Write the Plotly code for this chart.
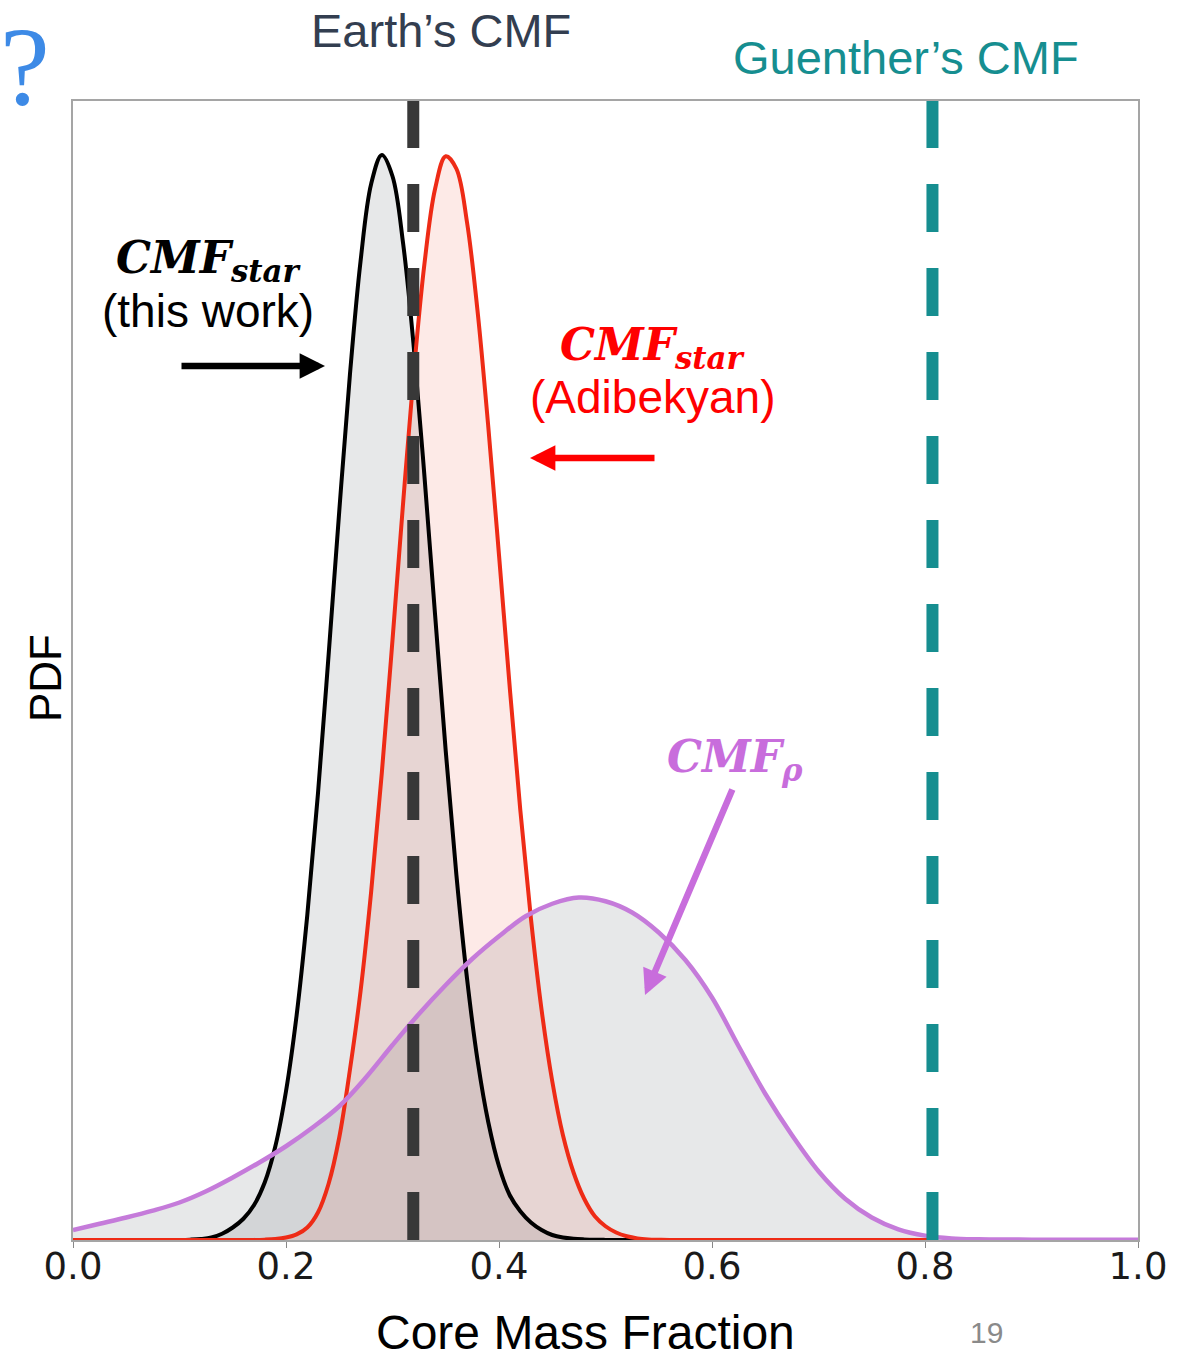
import plotly.graph_objects as go

# --- PDF of the core mass fraction (CMF) for each estimate ---
cmf_this_work = [0.00, 0.10, 0.11, 0.12, 0.13, 0.14, 0.15, 0.16, 0.17, 0.18,
                 0.19, 0.20, 0.21, 0.22, 0.23, 0.24, 0.25, 0.26, 0.27, 0.28,
                 0.29, 0.30, 0.31, 0.32, 0.33, 0.34, 0.35, 0.36, 0.37, 0.38,
                 0.39, 0.40, 0.41, 0.42, 0.43, 0.44, 0.45, 0.46, 0.47, 0.48,
                 0.49, 0.50, 0.55, 0.60]
pdf_this_work = [0.0, 0.001, 0.003, 0.008, 0.02, 0.05, 0.10, 0.17, 0.28, 0.46,
                 0.75, 1.19, 1.80, 2.60, 3.57, 4.68, 5.83, 6.92, 7.83, 8.45,
                 8.68, 8.51, 7.97, 7.14, 6.11, 5.00, 3.91, 2.92, 2.09, 1.43,
                 0.94, 0.59, 0.36, 0.23, 0.14, 0.08, 0.04, 0.02, 0.01, 0.005,
                 0.002, 0.001, 0.0, 0.0]

cmf_adibekyan = [0.00, 0.17, 0.18, 0.19, 0.20, 0.21, 0.22, 0.23, 0.24, 0.25,
                 0.26, 0.27, 0.28, 0.29, 0.30, 0.31, 0.32, 0.33, 0.34, 0.35,
                 0.36, 0.37, 0.38, 0.39, 0.40, 0.41, 0.42, 0.43, 0.44, 0.45,
                 0.46, 0.47, 0.48, 0.49, 0.50, 0.51, 0.52, 0.53, 0.54, 0.55,
                 0.56, 0.81]
pdf_adibekyan = [0.0, 0.001, 0.003, 0.008, 0.02, 0.045, 0.10, 0.22, 0.45, 0.82,
                 1.36, 1.99, 2.79, 3.74, 4.80, 5.90, 6.94, 7.81, 8.41, 8.67,
                 8.57, 8.14, 7.42, 6.50, 5.48, 4.43, 3.44, 2.57, 1.84, 1.27,
                 0.84, 0.54, 0.33, 0.19, 0.11, 0.06, 0.03, 0.013, 0.005, 0.002,
                 0.0, 0.0]

cmf_density = [0.000, 0.025, 0.050, 0.075, 0.100, 0.125, 0.150, 0.175, 0.200, 0.225,
               0.250, 0.275, 0.300, 0.325, 0.350, 0.375, 0.400, 0.425, 0.450, 0.475,
               0.500, 0.525, 0.550, 0.575, 0.600, 0.625, 0.650, 0.675, 0.700, 0.725,
               0.750, 0.775, 0.800, 0.825, 0.850, 0.900, 1.000]
pdf_density = [0.08, 0.13, 0.18, 0.235, 0.30, 0.39, 0.50, 0.62, 0.75, 0.90,
               1.07, 1.30, 1.56, 1.81, 2.04, 2.25, 2.43, 2.59, 2.69, 2.74,
               2.71, 2.62, 2.46, 2.24, 1.94, 1.55, 1.17, 0.84, 0.55, 0.33,
               0.18, 0.085, 0.035, 0.013, 0.006, 0.003, 0.002]

# reference CMF values
earth_cmf = 0.3195
guenther_cmf = 0.807

x_ticks = [0.0, 0.2, 0.4, 0.6, 0.8, 1.0]
x_tick_labels = ["0.0", "0.2", "0.4", "0.6", "0.8", "1.0"]

# --- figure geometry (pixels) ---
W, H = 1178, 1353
L, R, T, B = 73, 40, 101, 113
PLOT_W = W - L - R
PLOT_H = H - T - B
Y_MAX = 9.112


def px(x):
    return (x - L) / PLOT_W


def py(y):
    return (H - B - y) / PLOT_H


SANS = "Liberation Sans, Arial, sans-serif"
SERIF = "Liberation Serif, Times New Roman, serif"
MATH = "DejaVu Serif, serif"

GRAY_FILL = "rgba(120,125,135,0.18)"
RED_FILL = "rgba(240,60,40,0.11)"
BLACK = "#000000"
RED = "#ee2b16"
PURPLE_LINE = "#c57bda"
PURPLE = "#c86ddc"
TEAL = "#168e90"

fig = go.Figure()

# filled areas first, outlines on top
for xs, ys, fc in [(cmf_density, pdf_density, GRAY_FILL),
                   (cmf_this_work, pdf_this_work, GRAY_FILL),
                   (cmf_adibekyan, pdf_adibekyan, RED_FILL)]:
    fig.add_trace(go.Scatter(x=xs, y=ys, mode="lines", fill="tozeroy",
                             fillcolor=fc,
                             line=dict(width=0, shape="spline", smoothing=1.0),
                             hoverinfo="skip", showlegend=False))

for xs, ys, lc, lw in [(cmf_this_work, pdf_this_work, BLACK, 4),
                       (cmf_adibekyan, pdf_adibekyan, RED, 4),
                       (cmf_density, pdf_density, PURPLE_LINE, 4.5)]:
    fig.add_trace(go.Scatter(x=xs, y=ys, mode="lines",
                             line=dict(color=lc, width=lw, shape="spline", smoothing=1.0),
                             hoverinfo="skip", showlegend=False))

# dashed reference lines
for xv, col in [(earth_cmf, "#383838"), (guenther_cmf, TEAL)]:
    fig.add_shape(type="line", xref="x", yref="y", x0=xv, x1=xv, y0=0, y1=Y_MAX,
                  line=dict(color=col, width=12, dash="48px,36px"), layer="above")

annotations = [
    dict(text="Earth’s CMF", x=px(441), y=py(30), font=dict(family=SANS, size=47, color="#333e50")),
    dict(text="Guenther’s CMF", x=px(906), y=py(57), font=dict(family=SANS, size=47, color=TEAL)),
    dict(text="?", x=px(25), y=py(66), font=dict(family=SERIF, size=112, color="#3d8ae6")),
    dict(text="<b><i>CMF<sub>star</sub></i></b>", x=px(208), y=py(260),
         font=dict(family=MATH, size=44, color=BLACK)),
    dict(text="(this work)", x=px(208), y=py(311), font=dict(family=SANS, size=46, color=BLACK)),
    dict(text="<b><i>CMF<sub>star</sub></i></b>", x=px(652), y=py(347),
         font=dict(family=MATH, size=44, color="#ff0000")),
    dict(text="(Adibekyan)", x=px(652), y=py(397), font=dict(family=SANS, size=46, color="#ff0000")),
    dict(text="<b><i>CMF<sub>ρ</sub></i></b>", x=px(735), y=py(760),
         font=dict(family=MATH, size=44, color=PURPLE)),
    dict(text="Core Mass Fraction", x=px(585), y=py(1332), font=dict(family=SANS, size=48, color=BLACK)),
    dict(text="PDF", x=px(45), y=py(678), textangle=-90, font=dict(family=SANS, size=44, color=BLACK)),
    dict(text="19", x=px(986), y=py(1332), font=dict(family=SANS, size=30, color="#8a8a8a")),
]
for a in annotations:
    a.update(xref="paper", yref="paper", showarrow=False, xanchor="center", yanchor="middle")
    fig.add_annotation(**a)

# arrows pointing at the curves
arrows = [
    (px(325), py(366), -145, 0, BLACK),
    (px(530), py(458), 126, 0, "#ff0000"),
    (px(645), py(995), 88, -207, PURPLE),
]
for xh, yh, axp, ayp, col in arrows:
    fig.add_annotation(x=xh, y=yh, xref="paper", yref="paper", ax=axp, ay=ayp,
                       axref="pixel", ayref="pixel", text="", showarrow=True,
                       arrowhead=2, arrowsize=0.78, arrowwidth=6.5, arrowcolor=col)

fig.update_layout(
    width=W, height=H, autosize=False,
    margin=dict(l=L, r=R, t=T, b=B, pad=0),
    paper_bgcolor="white", plot_bgcolor="white",
    showlegend=False,
    xaxis=dict(range=[0, 1], tickvals=x_ticks, ticktext=x_tick_labels,
               ticks="outside", ticklen=6, tickwidth=1, tickcolor="#888888",
               ticklabelstandoff=-13,
               tickfont=dict(family="DejaVu Sans", size=37, color="#1a1a1a"),
               showline=True, linecolor="#a5a5a5", linewidth=2, mirror=True,
               showgrid=False, zeroline=False),
    yaxis=dict(range=[0, Y_MAX], showticklabels=False, ticks="",
               showline=True, linecolor="#a5a5a5", linewidth=2, mirror=True,
               showgrid=False, zeroline=False),
)

fig.write_html("out.html")
